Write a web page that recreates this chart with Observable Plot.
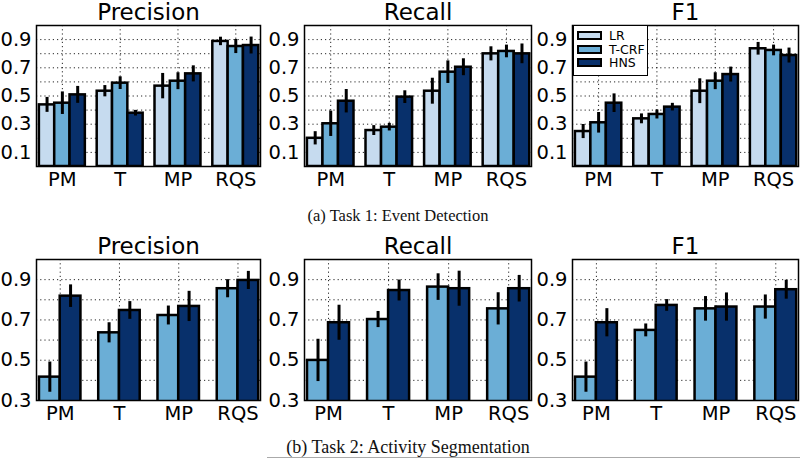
<!DOCTYPE html>
<html><head><meta charset="utf-8">
<script src="https://cdn.jsdelivr.net/npm/d3@7"></script>
<script src="https://cdn.jsdelivr.net/npm/@observablehq/plot@0.6"></script>
<style>
body{margin:0;background:#fff;}
#root{position:relative;width:800px;height:460px;overflow:hidden;font-family:"DejaVu Sans";}
.panel{position:absolute;}
.caption{position:absolute;font-family:"Liberation Serif";text-align:center;line-height:1;color:#111;white-space:nowrap;}
.legend{position:absolute;left:573px;top:25px;width:73px;height:49px;border:1px solid #000;background:#fff;font-family:"DejaVu Sans";font-size:12.5px;}
.legend .row{position:absolute;left:3px;height:13px;display:flex;align-items:center;}
.legend .sw{width:21px;height:5px;border:2px solid #000;margin-right:7px;}
.rule{position:absolute;left:267px;top:457px;width:533px;height:1px;background:#aaa;}
</style></head><body><div id="root"></div>
<script>
// ---------- data ----------
const categories = ["PM", "T", "MP", "RQS"];
const models = ["LR", "T-CRF", "HNS"];
const colors = ["#c6dbef", "#6baed6", "#08306b"];
const metrics = ["Precision", "Recall", "F1"];

// Task 1: Event Detection (LR, T-CRF, HNS)
const t1PrecisionLR = [0.437, 0.534, 0.570, 0.887];
const t1PrecisionTCRF = [0.449, 0.591, 0.605, 0.851];
const t1PrecisionHNS = [0.508, 0.378, 0.657, 0.858];
const t1PrecisionErrLR = [0.053, 0.040, 0.090, 0.030];
const t1PrecisionErrTCRF = [0.080, 0.045, 0.060, 0.050];
const t1PrecisionErrHNS = [0.060, 0.020, 0.057, 0.060];

const t1RecallLR = [0.200, 0.255, 0.534, 0.799];
const t1RecallTCRF = [0.303, 0.279, 0.669, 0.816];
const t1RecallHNS = [0.463, 0.492, 0.704, 0.799];
const t1RecallErrLR = [0.047, 0.035, 0.092, 0.050];
const t1RecallErrTCRF = [0.090, 0.027, 0.080, 0.045];
const t1RecallErrHNS = [0.083, 0.045, 0.060, 0.070];

const t1F1LR = [0.248, 0.338, 0.534, 0.835];
const t1F1TCRF = [0.310, 0.369, 0.605, 0.823];
const t1F1HNS = [0.449, 0.421, 0.652, 0.787];
const t1F1ErrLR = [0.050, 0.035, 0.088, 0.045];
const t1F1ErrTCRF = [0.073, 0.032, 0.060, 0.038];
const t1F1ErrHNS = [0.066, 0.027, 0.053, 0.053];

// Task 2: Activity Segmentation (T-CRF, HNS)
const t2PrecisionTCRF = [0.416, 0.636, 0.722, 0.855];
const t2PrecisionHNS = [0.818, 0.747, 0.767, 0.896];
const t2PrecisionErrTCRF = [0.075, 0.050, 0.047, 0.045];
const t2PrecisionErrHNS = [0.056, 0.044, 0.075, 0.045];

const t2RecallTCRF = [0.499, 0.702, 0.863, 0.755];
const t2RecallHNS = [0.686, 0.846, 0.855, 0.855];
const t2RecallErrTCRF = [0.105, 0.040, 0.066, 0.080];
const t2RecallErrHNS = [0.087, 0.052, 0.087, 0.066];

const t2F1TCRF = [0.416, 0.648, 0.755, 0.764];
const t2F1HNS = [0.686, 0.772, 0.764, 0.850];
const t2F1ErrTCRF = [0.075, 0.032, 0.061, 0.060];
const t2F1ErrHNS = [0.070, 0.029, 0.070, 0.047];

const t1YTicks = [0.1, 0.3, 0.5, 0.7, 0.9];
const t1Grid = [0.1, 0.2, 0.3, 0.4, 0.5, 0.6, 0.7, 0.8, 0.9];
const t2YTicks = [0.3, 0.5, 0.7, 0.9];
const t2Grid = [0.4, 0.5, 0.6, 0.7, 0.8, 0.9];
const captionA = "(a) Task 1: Event Detection";
const captionB = "(b) Task 2: Activity Segmentation";

// ---------- layout ----------
const cols = [
  {left: 0, width: 266, mL: 36, mR: 6},
  {left: 266, width: 268, mL: 38, mR: 3},
  {left: 534, width: 266, mL: 38, mR: 2}
];
const root = document.getElementById("root");

function buildRows(seriesNames, values, errors, barW) {
  const rows = [];
  categories.forEach((c, i) => {
    seriesNames.forEach((m, k) => {
      const x1 = i + k * barW;
      rows.push({cat: c, model: m, x1, x2: x1 + barW, xc: x1 + barW / 2,
        value: values[k][i], err: errors[k][i]});
    });
  });
  return rows;
}

function panel({title, seriesNames, values, errors, barW, yDomain, yTicks, grid, col, top}) {
  const groupW = barW * seriesNames.length;
  const centers = categories.map((c, i) => i + groupW / 2);
  const rows = buildRows(seriesNames, values, errors, barW);
  const chart = Plot.plot({
    width: col.width, height: 196,
    marginLeft: col.mL, marginRight: col.mR, marginTop: 25, marginBottom: 30,
    style: {fontFamily: "DejaVu Sans", fontSize: "19.5px", background: "transparent", overflow: "visible", color: "#000"},
    x: {domain: [-0.05, 3 + groupW + 0.03]},
    y: {domain: yDomain},
    color: {domain: models, range: colors},
    marks: [
      Plot.ruleY(grid, {stroke: "#000", strokeWidth: 1, strokeDasharray: "1.2,3", strokeOpacity: 0.85}),
      Plot.ruleX(centers, {stroke: "#000", strokeWidth: 1, strokeDasharray: "1.2,3", strokeOpacity: 0.85}),
      Plot.rectY(rows, {x1: "x1", x2: "x2", y1: 0, y2: "value", fill: "model", stroke: "#000", strokeWidth: 2.5, clip: true}),
      Plot.ruleX(rows, {x: "xc", y1: d => d.value - d.err, y2: d => d.value + d.err, stroke: "#000", strokeWidth: 3}),
      Plot.frame({stroke: "#000", strokeWidth: 1.5}),
      Plot.axisY({ticks: yTicks, tickFormat: ".1f", tickSize: 0, tickPadding: 5, fontSize: 19.5, label: null}),
      Plot.axisX({ticks: centers, tickFormat: d => categories[Math.round(d - groupW / 2)], tickSize: 0, tickPadding: 6, fontSize: 19.5, label: null}),
      Plot.text([title], {frameAnchor: "top", lineAnchor: "bottom", dy: -6, fontSize: 23, fill: "#000"})
    ]
  });
  const div = document.createElement("div");
  div.className = "panel";
  div.style.left = col.left + "px";
  div.style.top = top + "px";
  div.appendChild(chart);
  root.appendChild(div);
}

const t1Values = {
  Precision: [[t1PrecisionLR, t1PrecisionTCRF, t1PrecisionHNS], [t1PrecisionErrLR, t1PrecisionErrTCRF, t1PrecisionErrHNS]],
  Recall: [[t1RecallLR, t1RecallTCRF, t1RecallHNS], [t1RecallErrLR, t1RecallErrTCRF, t1RecallErrHNS]],
  F1: [[t1F1LR, t1F1TCRF, t1F1HNS], [t1F1ErrLR, t1F1ErrTCRF, t1F1ErrHNS]]
};
const t2Values = {
  Precision: [[t2PrecisionTCRF, t2PrecisionHNS], [t2PrecisionErrTCRF, t2PrecisionErrHNS]],
  Recall: [[t2RecallTCRF, t2RecallHNS], [t2RecallErrTCRF, t2RecallErrHNS]],
  F1: [[t2F1TCRF, t2F1HNS], [t2F1ErrTCRF, t2F1ErrHNS]]
};

metrics.forEach((m, j) => {
  panel({title: m, seriesNames: models, values: t1Values[m][0], errors: t1Values[m][1],
    barW: 0.265, yDomain: [0, 1], yTicks: t1YTicks, grid: t1Grid, col: cols[j], top: 0});
  panel({title: m, seriesNames: models.slice(1), values: t2Values[m][0], errors: t2Values[m][1],
    barW: 0.35, yDomain: [0.3, 1], yTicks: t2YTicks, grid: t2Grid, col: cols[j], top: 234});
});

// legend (inside top F1 panel)
const legend = document.createElement("div");
legend.className = "legend";
models.forEach((m, k) => {
  const row = document.createElement("div");
  row.className = "row";
  row.style.top = (3 + k * 13.5) + "px";
  const sw = document.createElement("span");
  sw.className = "sw";
  sw.style.background = colors[k];
  const lab = document.createElement("span");
  lab.textContent = m;
  row.appendChild(sw); row.appendChild(lab);
  legend.appendChild(row);
});
root.appendChild(legend);

// captions
const ca = document.createElement("div");
ca.className = "caption";
ca.style.cssText = "left:0;width:796px;top:208px;font-size:16.5px;";
ca.textContent = captionA;
root.appendChild(ca);
const cb = document.createElement("div");
cb.className = "caption";
cb.style.cssText = "left:8px;width:800px;top:438px;font-size:18px;";
cb.textContent = captionB;
root.appendChild(cb);
const rule = document.createElement("div");
rule.className = "rule";
root.appendChild(rule);
</script></body></html>
